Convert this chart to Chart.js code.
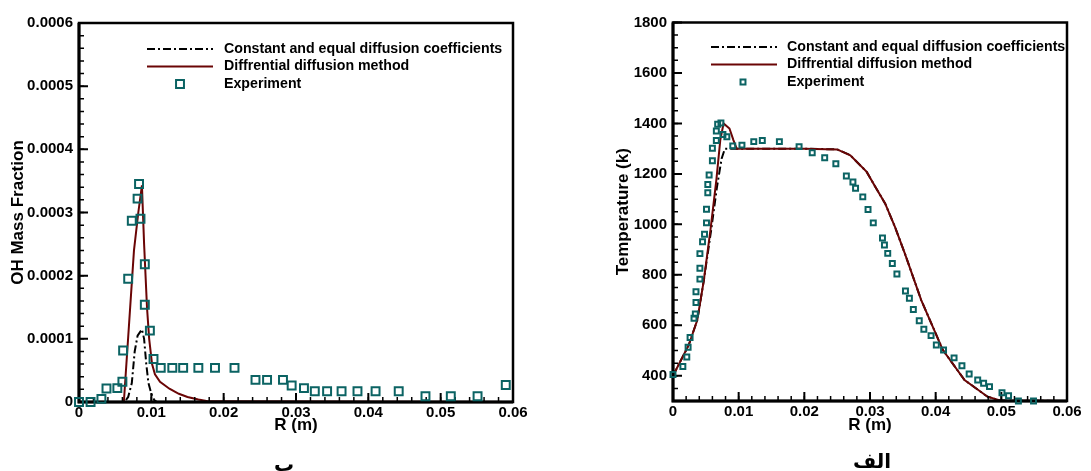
<!DOCTYPE html>
<html>
<head>
<meta charset="utf-8">
<script src="https://cdn.jsdelivr.net/npm/chart.js@4.4.1/dist/chart.umd.min.js"></script>
<style>
  html, body { margin: 0; padding: 0; background: #fff; overflow: hidden; }
  #wrap { position: relative; width: 1091px; height: 471px; }
  canvas { position: absolute; top: 0; }
  #cOH { left: 0; }
  #cT { left: 545px; }
  .cap { position: absolute; font-family: "DejaVu Sans", sans-serif; font-weight: bold; font-size: 20px; line-height: 24px; color: #000; text-align: center; width: 60px; }
</style>
</head>
<body>
<div id="wrap">
  <canvas id="cOH" width="545" height="471"></canvas>
  <canvas id="cT" width="546" height="471"></canvas>
  <div class="cap" id="capB" dir="rtl" style="left:254px; top:452px;">ب</div>
  <div class="cap" id="capA" dir="rtl" style="left:842px; top:449px;">الف</div>
</div>
<script>
// series names (same for both panels)
const seriesNames = ['Constant and equal diffusion coefficients', 'Diffrential diffusion method', 'Experiment'];

// axis ticks
const rTicks = [0, 0.01, 0.02, 0.03, 0.04, 0.05, 0.06];
const rTickLabels = ['0', '0.01', '0.02', '0.03', '0.04', '0.05', '0.06'];
const ohTicks = [0, 0.0001, 0.0002, 0.0003, 0.0004, 0.0005, 0.0006];
const ohTickLabels = ['0', '0.0001', '0.0002', '0.0003', '0.0004', '0.0005', '0.0006'];
const tempTicks = [400, 600, 800, 1000, 1200, 1400, 1600, 1800];
const tempTickLabels = ['400', '600', '800', '1000', '1200', '1400', '1600', '1800'];

// panel b : OH mass fraction
const ohConstR = [0, 0.0063, 0.0068, 0.0073, 0.0077, 0.0081, 0.0087, 0.009, 0.0093, 0.0096, 0.01, 0.0104, 0.0108, 0.06];
const ohConstY = [0, 0, 0.000008, 0.00003, 0.00008, 0.000105, 0.000115, 0.0001, 0.00006, 0.00003, 0.000013, 0.000003, 0, 0];
const ohDiffR = [0, 0.0062, 0.0069, 0.0076, 0.0082, 0.0087, 0.009, 0.0094, 0.0097, 0.0101, 0.0105, 0.0112, 0.0125, 0.0138, 0.015, 0.0165, 0.018, 0.06];
const ohDiffY = [0, 0, 0.00012, 0.00024, 0.0003, 0.000343, 0.00025, 0.00015, 0.0001, 0.00006, 0.000044, 0.000032, 0.000021, 0.000013, 0.000008, 0.000004, 0.000001, 0];
const ohExpR = [0, 0.0016, 0.0031, 0.0038, 0.0053, 0.006, 0.0061, 0.0068, 0.0073, 0.0081, 0.0083, 0.0085, 0.0091, 0.0091, 0.0098, 0.0103, 0.0113, 0.0129, 0.0144, 0.0165, 0.0188, 0.0215, 0.0244, 0.026, 0.0282, 0.0294, 0.0311, 0.0326, 0.0343, 0.0363, 0.0385, 0.041, 0.0442, 0.0479, 0.0514, 0.0551, 0.059];
const ohExpY = [0, 0, 0.000005, 0.0000215, 0.000022, 0.000032, 0.0000815, 0.000195, 0.000287, 0.000322, 0.000345, 0.00029, 0.000218, 0.000154, 0.000113, 0.000068, 0.000054, 0.000054, 0.000054, 0.000054, 0.000054, 0.000054, 0.000035, 0.000035, 0.000035, 0.000026, 0.000022, 0.000017, 0.000017, 0.000017, 0.000017, 0.000017, 0.000017, 0.000009, 0.000009, 0.000009, 0.000027];

// panel alef : temperature
const tConstR = [0, 0.0024, 0.0037, 0.0047, 0.0058, 0.0067, 0.0074, 0.0079, 0.015, 0.02, 0.025, 0.027, 0.0295, 0.0308, 0.0323, 0.0338, 0.0353, 0.0378, 0.0411, 0.0444, 0.0479, 0.0498, 0.06];
const tConstT = [400, 522, 621, 779, 975, 1149, 1260, 1300, 1300, 1300, 1297, 1274, 1208, 1149, 1083, 990, 885, 700, 502, 383, 317, 302, 300];
const tDiffR = [0, 0.0024, 0.0037, 0.0047, 0.0057, 0.0066, 0.0072, 0.0077, 0.0086, 0.0092, 0.0097, 0.015, 0.02, 0.025, 0.027, 0.0295, 0.0308, 0.0323, 0.0338, 0.0353, 0.0378, 0.0411, 0.0444, 0.0479, 0.0498, 0.06];
const tDiffT = [400, 522, 621, 779, 977, 1175, 1334, 1400, 1380, 1334, 1300, 1300, 1300, 1297, 1274, 1208, 1149, 1083, 990, 885, 700, 502, 383, 317, 302, 300];
const tExpR = [0, 0.0015, 0.0021, 0.0023, 0.0026, 0.0032, 0.0034, 0.0035, 0.0035, 0.0041, 0.0041, 0.0041, 0.0045, 0.0048, 0.0051, 0.0051, 0.0053, 0.0053, 0.0055, 0.006, 0.006, 0.0066, 0.0066, 0.0068, 0.0073, 0.0076, 0.0082, 0.0091, 0.0105, 0.0123, 0.0136, 0.0162, 0.0192, 0.0212, 0.0231, 0.0248, 0.0264, 0.0274, 0.0278, 0.0289, 0.0297, 0.0305, 0.0319, 0.0322, 0.0327, 0.0334, 0.0341, 0.0354, 0.036, 0.0366, 0.0375, 0.0382, 0.0393, 0.0401, 0.0412, 0.0428, 0.044, 0.0451, 0.0464, 0.0473, 0.0482, 0.0501, 0.0511, 0.0526, 0.0549];
const tExpT = [405, 437, 474, 513, 552, 628, 645, 690, 733, 783, 826, 884, 931, 961, 1006, 1060, 1125, 1158, 1196, 1252, 1302, 1332, 1370, 1397, 1402, 1356, 1347, 1311, 1314, 1328, 1332, 1328, 1308, 1284, 1264, 1240, 1192, 1168, 1143, 1109, 1059, 1006, 946, 918, 885, 845, 803, 736, 707, 663, 618, 584, 559, 522, 502, 471, 440, 407, 383, 370, 357, 333, 321, 300, 300];

const FONT = '"Liberation Sans", Arial, Helvetica, sans-serif';
const tickFont = { family: FONT, size: 15, weight: 'bold' };
const titleFont = { family: FONT, size: 17, weight: 'bold' };
const TEAL = '#0b6363';
const MAROON = '#6a0505';

function toPoints(xs, ys) {
    return xs.map((x, i) => ({ x: x, y: ys[i] }));
}

// frame + inward ticks, drawn just before the experiment markers
const frameTicks = {
    id: 'frameTicks',
    beforeDatasetDraw(chart, args, opts) {
        if (args.index !== 2) return;
        const ctx = chart.ctx;
        const a = chart.chartArea;
        const xs = chart.scales.x, ys = chart.scales.y;
        ctx.save();
        ctx.strokeStyle = '#000';
        ctx.lineCap = 'butt';
        // minor ticks
        ctx.lineWidth = 1.5;
        ctx.beginPath();
        let n = Math.round((xs.max - xs.min) / opts.xMinor);
        for (let i = 0; i <= n; i++) {
            const px = xs.getPixelForValue(xs.min + i * opts.xMinor);
            ctx.moveTo(px, a.bottom);
            ctx.lineTo(px, a.bottom - 5);
        }
        n = Math.round((ys.max - ys.min) / opts.yMinor);
        for (let i = 0; i <= n; i++) {
            const py = ys.getPixelForValue(ys.min + i * opts.yMinor);
            ctx.moveTo(a.left, py);
            ctx.lineTo(a.left + 5, py);
        }
        ctx.stroke();
        // major ticks
        ctx.lineWidth = 2;
        ctx.beginPath();
        xs.ticks.forEach(t => {
            const px = xs.getPixelForValue(t.value);
            ctx.moveTo(px, a.bottom);
            ctx.lineTo(px, a.bottom - 9);
        });
        ys.ticks.forEach(t => {
            const py = ys.getPixelForValue(t.value);
            ctx.moveTo(a.left, py);
            ctx.lineTo(a.left + 9, py);
        });
        ctx.stroke();
        // frame
        ctx.lineWidth = 2.5;
        ctx.strokeRect(a.left, a.top, a.right - a.left, a.bottom - a.top);
        ctx.lineWidth = 3;
        ctx.beginPath();
        ctx.moveTo(a.left, a.top);
        ctx.lineTo(a.left, a.bottom);
        ctx.lineTo(a.right, a.bottom);
        ctx.stroke();
        ctx.restore();
    }
};

// legend placed inside the plot, like the original
const insideLegend = {
    id: 'insideLegend',
    afterDraw(chart, args, opts) {
        const ctx = chart.ctx;
        ctx.save();
        ctx.font = 'bold 14.2px ' + FONT;
        ctx.textBaseline = 'middle';
        chart.data.datasets.forEach((ds, i) => {
            const y = opts.top + i * opts.rowGap;
            if (ds.showLine === false) {
                ctx.strokeStyle = ds.pointBorderColor;
                ctx.fillStyle = 'rgba(0,0,0,0)';
                Chart.helpers.drawPoint(ctx, {
                    pointStyle: 'rect', rotation: 0,
                    radius: ds.pointRadius, borderWidth: ds.pointBorderWidth
                }, opts.markerX, y);
            } else {
                ctx.strokeStyle = ds.borderColor;
                ctx.lineWidth = ds.borderWidth;
                ctx.setLineDash(ds.borderDash || []);
                ctx.beginPath();
                ctx.moveTo(opts.lineX0, y);
                ctx.lineTo(opts.lineX1, y);
                ctx.stroke();
                ctx.setLineDash([]);
            }
            ctx.fillStyle = '#000';
            ctx.fillText(ds.label, opts.textX, y);
        });
        ctx.restore();
    }
};

function makePanel(canvasId, p) {
    const ctx = document.getElementById(canvasId).getContext('2d');
    return new Chart(ctx, {
        type: 'scatter',
        data: {
            datasets: [{
                type: 'line',
                label: seriesNames[0],
                data: toPoints(p.constX, p.constY),
                borderColor: '#000',
                borderWidth: 2,
                borderDash: [8, 3, 2, 3],
                pointRadius: 0,
                tension: 0,
                order: 3
            }, {
                type: 'line',
                label: seriesNames[1],
                data: toPoints(p.diffX, p.diffY),
                borderColor: MAROON,
                borderWidth: 2,
                pointRadius: 0,
                tension: 0,
                order: 2
            }, {
                label: seriesNames[2],
                data: toPoints(p.expX, p.expY),
                showLine: false,
                pointStyle: 'rect',
                pointRadius: p.markerRadius,
                pointBorderWidth: 2,
                pointBorderColor: TEAL,
                pointBackgroundColor: 'rgba(0,0,0,0)',
                clip: false,
                order: 1
            }]
        },
        options: {
            responsive: false,
            animation: false,
            events: [],
            layout: { padding: p.padding },
            plugins: {
                legend: { display: false },
                tooltip: { enabled: false },
                frameTicks: { xMinor: 0.002, yMinor: p.yMinor },
                insideLegend: p.legend
            },
            scales: {
                x: {
                    type: 'linear',
                    min: 0,
                    max: 0.06,
                    afterBuildTicks: s => { s.ticks = rTicks.map(v => ({ value: v })); },
                    afterFit: s => { s.height = p.xAxisHeight; },
                    grid: { display: false, drawTicks: false },
                    border: { display: false },
                    ticks: {
                        callback: (v, i) => rTickLabels[i],
                        font: tickFont, color: '#000', padding: 2,
                        autoSkip: false, maxRotation: 0
                    },
                    title: { display: true, text: 'R (m)', font: titleFont, color: '#000', padding: { top: 0, bottom: 35 } }
                },
                y: {
                    type: 'linear',
                    min: p.yMin,
                    max: p.yMax,
                    afterBuildTicks: s => { s.ticks = p.yTicks.map(v => ({ value: v })); },
                    afterFit: s => { s.width = p.yAxisWidth; },
                    grid: { display: false, drawTicks: false },
                    border: { display: false },
                    ticks: {
                        callback: (v, i) => p.yTickLabels[i],
                        font: tickFont, color: '#000', padding: 6, autoSkip: false
                    },
                    title: { display: true, text: p.yTitle, font: titleFont, color: '#000', padding: { top: p.yTitlePad, bottom: 0 } }
                }
            }
        },
        plugins: [frameTicks, insideLegend]
    });
}

makePanel('cOH', {
    constX: ohConstR, constY: ohConstY,
    diffX: ohDiffR, diffY: ohDiffY,
    expX: ohExpR, expY: ohExpY,
    markerRadius: 5.6,
    yMin: 0, yMax: 0.0006, yMinor: 0.00002,
    yTicks: ohTicks, yTickLabels: ohTickLabels,
    yTitle: 'OH Mass Fraction', yTitlePad: 8,
    yAxisWidth: 79, xAxisHeight: 69,
    padding: { top: 23, right: 32, left: 0, bottom: 0 },
    legend: { top: 49, rowGap: 17.5, lineX0: 147, lineX1: 213, markerX: 180, textX: 224 }
});

makePanel('cT', {
    constX: tConstR, constY: tConstT,
    diffX: tDiffR, diffY: tDiffT,
    expX: tExpR, expY: tExpT,
    markerRadius: 3.5,
    yMin: 300, yMax: 1800, yMinor: 50,
    yTicks: tempTicks, yTickLabels: tempTickLabels,
    yTitle: 'Temperature (k)', yTitlePad: 68,
    yAxisWidth: 128, xAxisHeight: 70,
    padding: { top: 22.5, right: 24, left: 0, bottom: 0 },
    legend: { top: 47, rowGap: 17.5, lineX0: 166, lineX1: 232, markerX: 198, textX: 242 }
});
</script>
</body>
</html>
